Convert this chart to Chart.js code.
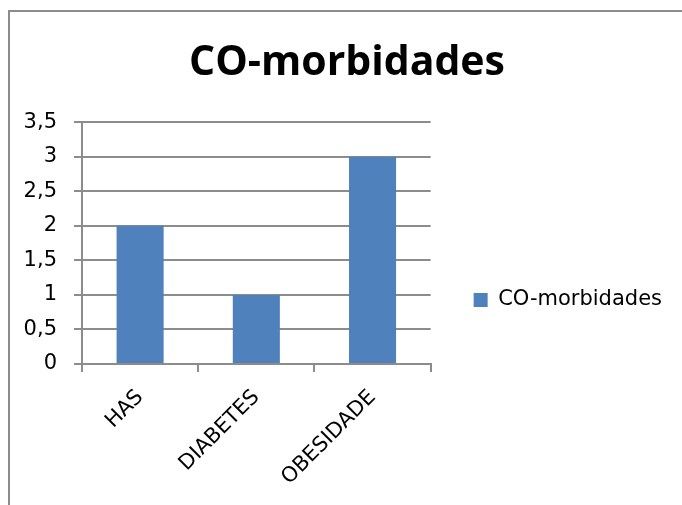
<!DOCTYPE html>
<html>
<head>
<meta charset="utf-8">
<script src="https://cdn.jsdelivr.net/npm/chart.js@4.4.1/dist/chart.umd.min.js"></script>
<style>
    html, body { margin: 0; padding: 0; background: #fff; overflow: hidden; }
    body { width: 682px; height: 505px; position: relative; }
    #frame { position: absolute; left: 8px; top: 10px; right: -20px; bottom: -20px;
             border-left: 2px solid #8c8c8c; border-top: 2px solid #8c8c8c; pointer-events: none; }
    #chartCanvas { position: absolute; left: 0; top: 0; }
</style>
</head>
<body>
<!-- canvas mais alto que a janela: a legenda fica centrada como no original -->
<canvas id="chartCanvas" width="672" height="600"></canvas>
<div id="frame"></div>
<script>
// dados do grafico
const chartTitle = 'CO-morbidades';
const seriesName = 'CO-morbidades';
const categories = ['HAS', 'DIABETES', 'OBESIDADE'];
const values = [2, 1, 3];
const yTickLabels = ['0', '0,5', '1', '1,5', '2', '2,5', '3', '3,5'];

const barColor = '#4F81BD';
const gridColor = '#8c8c8c';
const labelFont = { family: 'DejaVu Sans', size: 21 };

const ctx = document.getElementById('chartCanvas').getContext('2d');

const config = {
    type: 'bar',
    data: {
        labels: categories,
        datasets: [{
            label: seriesName,
            data: values,
            backgroundColor: barColor,
            borderWidth: 0,
            categoryPercentage: 1,
            barPercentage: 0.405
        }]
    },
    options: {
        responsive: false,
        animation: false,
        layout: { padding: { left: 22, right: 0, top: 0, bottom: 0 } },
        plugins: {
            title: {
                display: true,
                text: chartTitle,
                color: '#000',
                font: { family: 'Open Sans', size: 41, weight: 'bold', lineHeight: 1.2 },
                padding: { top: 39, bottom: 34 }
            },
            legend: {
                position: 'right',
                maxWidth: 400,
                labels: {
                    boxWidth: 14,
                    boxHeight: 14,
                    padding: 43,
                    color: '#000',
                    font: labelFont
                }
            },
            tooltip: { enabled: false }
        },
        scales: {
            x: {
                // eixo alto para o rodape ficar fora da janela; sem recuo extra p/ rotulos girados
                afterFit: axis => {
                    axis.height = 236;
                    axis.paddingLeft = 0;
                    axis.paddingRight = 0;
                },
                grid: {
                    display: true,
                    drawOnChartArea: false,
                    tickLength: 8,
                    color: gridColor,
                    lineWidth: 2
                },
                border: { color: gridColor, width: 2 },
                ticks: {
                    color: '#000',
                    font: labelFont,
                    maxRotation: 45,
                    minRotation: 45,
                    padding: 13
                }
            },
            y: {
                min: 0,
                max: 3.5,
                afterFit: axis => { axis.width = 60; },
                grid: {
                    color: gridColor,
                    lineWidth: 2,
                    tickLength: 8
                },
                border: { color: gridColor, width: 2 },
                ticks: {
                    stepSize: 0.5,
                    color: '#000',
                    font: labelFont,
                    padding: 17,
                    callback: (value, index) => yTickLabels[index]
                }
            }
        }
    }
};

new Chart(ctx, config);
</script>
</body>
</html>
